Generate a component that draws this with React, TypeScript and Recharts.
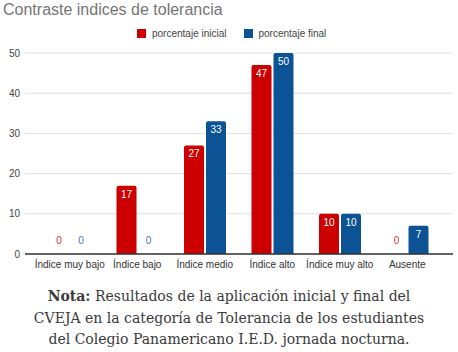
import React from 'react'
import { BarChart, Bar, XAxis, YAxis, CartesianGrid, ReferenceLine, Rectangle } from 'recharts'

const CATEGORIES = ['Índice muy bajo', 'Índice bajo', 'Índice medio', 'Índice alto', 'Índice muy alto', 'Ausente']
const INICIAL = [0, 17, 27, 47, 10, 0]
const FINAL = [0, 0, 33, 50, 10, 7]
const Y_TICKS = [0, 10, 20, 30, 40, 50]

const RED = '#cc0000'
const BLUE = '#0b5394'
const FONT = '"Liberation Sans", Arial, sans-serif'

const data = CATEGORIES.map((name, i) => ({ name, inicial: INICIAL[i], final: FINAL[i] }))

// bar + its value label; zero values get only a coloured label above the baseline
function makeShape(fill: string, zeroColor: string, key: 'inicial' | 'final') {
  return (props: any) => {
    const { x, y, width, height, payload } = props
    const value = payload[key]
    const cx = x + width / 2
    const base = y + height
    if (value === 0) {
      return (
        <text x={cx} y={base - 10} textAnchor="middle" fill={zeroColor} fontSize={10} fontFamily={FONT}>
          0
        </text>
      )
    }
    return (
      <g>
        <Rectangle x={x} y={y} width={width} height={height} fill={fill} radius={[2, 2, 0, 0]} />
        <text x={cx} y={y + 12} textAnchor="middle" fill="#ffffff" fontSize={10} fontFamily={FONT}>
          {value}
        </text>
      </g>
    )
  }
}

function LegendBox() {
  const item = (color: string, label: string) => (
    <div style={{ display: 'flex', alignItems: 'center', marginRight: 17 }}>
      <div style={{ width: 9, height: 9, background: color, marginRight: 6 }} />
      <span>{label}</span>
    </div>
  )
  return (
    <div
      style={{
        position: 'absolute', top: 28, left: 137, display: 'flex',
        fontFamily: FONT, fontSize: 10, color: '#444',
      }}
    >
      {item(RED, 'porcentaje inicial')}
      {item(BLUE, 'porcentaje final')}
    </div>
  )
}

export default function App() {
  return (
    <div style={{ position: 'absolute', left: 0, top: 0, width: 458, height: 352, background: '#fff' }}>
      <div
        style={{
          position: 'absolute', left: 3, top: 1, fontFamily: FONT, fontSize: 16,
          color: '#757575', whiteSpace: 'nowrap',
        }}
      >
        Contraste indices de tolerancia
      </div>
      <LegendBox />
      <BarChart
        width={458}
        height={275}
        data={data}
        margin={{ top: 53, right: 5, bottom: 1, left: 0 }}
        barSize={20}
        barGap={2}
      >
        <CartesianGrid vertical={false} stroke="#e0e0e0" />
        <XAxis
          dataKey="name"
          axisLine={false}
          tickLine={false}
          tickSize={0}
          tickMargin={7}
          height={20}
          padding={{ left: 11, right: 12 }}
          interval={0}
          tick={{ fill: '#333', fontSize: 10, fontFamily: FONT }}
        />
        <YAxis
          domain={[0, 50]}
          ticks={Y_TICKS}
          width={25}
          axisLine={false}
          tickLine={false}
          tickSize={0}
          tickMargin={5}
          tick={{ fill: '#444', fontSize: 10, fontFamily: FONT }}
        />
        <ReferenceLine y={0} stroke="#333" strokeWidth={1.3} />
        <Bar
          dataKey="inicial"
          fill={RED}
          minPointSize={0.01}
          shape={makeShape(RED, '#e03030', 'inicial')}
          isAnimationActive={false}
        />
        <Bar
          dataKey="final"
          fill={BLUE}
          minPointSize={0.01}
          shape={makeShape(BLUE, '#3d78c0', 'final')}
          isAnimationActive={false}
        />
      </BarChart>
      <div
        style={{
          position: 'absolute', left: 0, top: 286, width: 458, textAlign: 'center',
          fontFamily: '"DejaVu Serif", serif', fontSize: 14, lineHeight: '21.5px', color: '#3a3a3a',
        }}
      >
        <b>Nota:</b> Resultados de la aplicación inicial y final del
        <br />
        CVEJA en la categoría de Tolerancia de los estudiantes
        <br />
        del Colegio Panamericano I.E.D. jornada nocturna.
      </div>
    </div>
  )
}
